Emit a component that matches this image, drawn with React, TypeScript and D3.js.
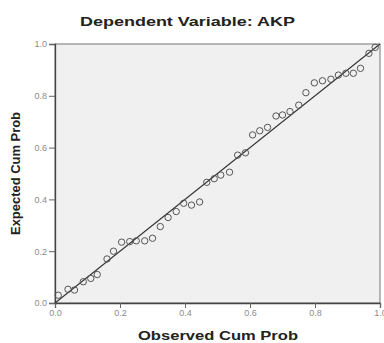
import { useEffect, useRef } from 'react';
import * as d3 from 'd3';

// Observed vs expected cumulative probabilities
const observed = [
  0.01, 0.04, 0.06, 0.087, 0.11, 0.13, 0.16, 0.18, 0.205, 0.23, 0.25, 0.276,
  0.30, 0.324, 0.348, 0.373, 0.396, 0.42, 0.445, 0.467, 0.49, 0.51, 0.537,
  0.562, 0.586, 0.608, 0.63, 0.654, 0.68, 0.70, 0.723, 0.75, 0.772, 0.798,
  0.823, 0.849, 0.872, 0.895, 0.918, 0.94, 0.966, 0.985,
];
const expected = [
  0.03, 0.053, 0.05, 0.082, 0.095, 0.11, 0.17, 0.2, 0.235, 0.237, 0.24, 0.24,
  0.25, 0.295, 0.33, 0.353, 0.385, 0.378, 0.39, 0.466, 0.48, 0.494, 0.505,
  0.571, 0.58, 0.649, 0.665, 0.678, 0.722, 0.726, 0.739, 0.764, 0.812, 0.85,
  0.858, 0.864, 0.88, 0.887, 0.887, 0.906, 0.964, 0.987,
];
const ticks = [0, 0.2, 0.4, 0.6, 0.8, 1.0];

const App = () => {
  const ref = useRef<SVGSVGElement>(null);

  useEffect(() => {
    if (!ref.current) return;
    const svg = d3.select(ref.current);
    svg.selectAll('*').remove();

    const W = 384;
    const H = 343;
    const left = 55, right = 380, top = 44, bottom = 303;

    const x = d3.scaleLinear().domain([0, 1]).range([left, right]);
    const y = d3.scaleLinear().domain([0, 1]).range([bottom, top]);

    svg.append('rect').attr('width', W).attr('height', H).attr('fill', '#fff');

    // plot background + frame
    svg.append('rect')
      .attr('x', left).attr('y', top)
      .attr('width', right - left).attr('height', bottom - top)
      .attr('fill', '#f0f0f0')
      .attr('stroke', '#8a8a8a')
      .attr('stroke-width', 1.2);

    // y axis
    svg.append('g')
      .attr('transform', `translate(${left},0)`)
      .call(d3.axisLeft(y).tickValues(ticks).tickSize(6).tickPadding(2).tickFormat(d3.format('.1f')))
      .call(g => g.select('.domain').attr('stroke', '#444').attr('stroke-width', 1.3))
      .call(g => g.selectAll('.tick line').attr('stroke', '#666'))
      .call(g => g.selectAll('text')
        .style('font-family', 'Liberation Sans, Arial, sans-serif')
        .style('font-size', '9px')
        .style('fill', '#8c8c8c'));

    // x axis
    svg.append('g')
      .attr('transform', `translate(0,${bottom})`)
      .call(d3.axisBottom(x).tickValues(ticks).tickSize(5).tickPadding(2).tickFormat(d3.format('.1f')))
      .call(g => g.select('.domain').attr('stroke', '#444').attr('stroke-width', 1.3))
      .call(g => g.selectAll('.tick line').attr('stroke', '#666'))
      .call(g => g.selectAll('text')
        .style('font-family', 'Liberation Sans, Arial, sans-serif')
        .style('font-size', '9px')
        .style('fill', '#8c8c8c'));

    // reference diagonal
    svg.append('line')
      .attr('x1', x(0)).attr('y1', y(0))
      .attr('x2', x(1)).attr('y2', y(1))
      .attr('stroke', '#333')
      .attr('stroke-width', 1.1);

    // points
    svg.append('g')
      .selectAll('circle')
      .data(observed.map((o, i) => ({ o, e: expected[i] })))
      .enter()
      .append('circle')
      .attr('cx', d => x(d.o))
      .attr('cy', d => y(d.e))
      .attr('r', 3.2)
      .attr('fill', 'none')
      .attr('stroke', '#555')
      .attr('stroke-width', 1);

    // title
    svg.append('text')
      .attr('x', 80).attr('y', 26)
      .attr('textLength', 215)
      .attr('lengthAdjust', 'spacingAndGlyphs')
      .style('font-family', 'Liberation Sans, Arial, sans-serif')
      .style('font-size', '13px')
      .style('font-weight', 'bold')
      .style('fill', '#222')
      .text('Dependent Variable: AKP');

    // x label
    svg.append('text')
      .attr('x', 138).attr('y', 340)
      .attr('textLength', 160)
      .attr('lengthAdjust', 'spacingAndGlyphs')
      .style('font-family', 'Liberation Sans, Arial, sans-serif')
      .style('font-size', '12.5px')
      .style('font-weight', 'bold')
      .style('fill', '#222')
      .text('Observed Cum Prob');

    // y label
    svg.append('text')
      .attr('transform', `translate(20,235) rotate(-90)`)
      .attr('textLength', 123)
      .attr('lengthAdjust', 'spacingAndGlyphs')
      .style('font-family', 'Liberation Sans, Arial, sans-serif')
      .style('font-size', '12px')
      .style('font-weight', 'bold')
      .style('fill', '#222')
      .text('Expected Cum Prob');
  }, []);

  return (
    <svg
      ref={ref}
      width={384}
      height={343}
      style={{ position: 'absolute', left: 0, top: 0 }}
    />
  );
};

export default App;
